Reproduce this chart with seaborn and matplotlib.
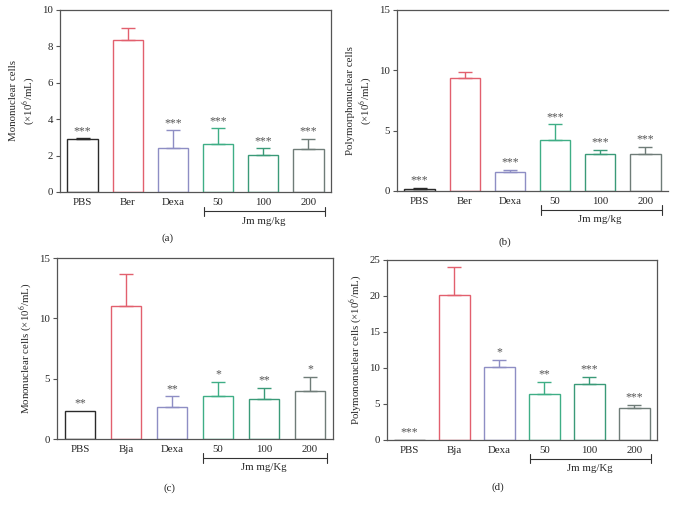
import matplotlib
matplotlib.use("Agg")
import matplotlib.pyplot as plt
import matplotlib.transforms as mtransforms
import seaborn as sns
import numpy as np

# ---- data ----
groups_ab = ["PBS", "Ber", "Dexa", "50", "100", "200"]
groups_cd = ["PBS", "Bja", "Dexa", "50", "100", "200"]

mono_a = [2.90, 8.35, 2.44, 2.64, 2.05, 2.34]
mono_a_err = [0.05, 0.64, 0.95, 0.85, 0.35, 0.56]
mono_a_sig = ["***", "", "***", "***", "***", "***"]

poly_b = [0.19, 9.33, 1.58, 4.24, 3.10, 3.10]
poly_b_err = [0.09, 0.50, 0.19, 1.27, 0.28, 0.58]
poly_b_sig = ["***", "", "***", "***", "***", "***"]

mono_c = [2.32, 11.02, 2.63, 3.57, 3.29, 4.01]
mono_c_err = [0.0, 2.68, 0.91, 1.16, 0.94, 1.11]
mono_c_sig = ["**", "", "**", "*", "**", "*"]

poly_d = [0.05, 20.13, 10.16, 6.35, 7.75, 4.45]
poly_d_err = [0.0, 3.90, 0.92, 1.72, 1.06, 0.47]
poly_d_sig = ["***", "", "*", "**", "***", "***"]

colors = ["#2a2a2a", "#e2606e", "#8e8ec4", "#3fae86", "#3a9a78", "#6f7c78"]

sns.set_style("ticks")
plt.rcParams["font.family"] = ["Liberation Serif", "DejaVu Serif"]
plt.rcParams["mathtext.fontset"] = "stix"

FS = 7.8

fig = plt.figure(figsize=(6.75, 5.09), dpi=100)

panels = [
    # rect, groups, values, err, sig, ylim, yticks, ylabel, bracket label, right spine, tag, tag pos
    ([0.0889, 0.6228, 0.4015, 0.3576], groups_ab, mono_a, mono_a_err, mono_a_sig,
     10, np.arange(0, 11, 2), "Mononuclear cells\n(×10$^6$/mL)", "Jm mg/kg", True,
     "(a)", (168 / 675, 1 - 238 / 509)),
    ([0.5881, 0.6248, 0.4015, 0.3556], groups_ab, poly_b, poly_b_err, poly_b_sig,
     15, [0, 5, 10, 15], "Polymorphonuclear cells\n(×10$^6$/mL)", "Jm mg/kg", False,
     "(b)", (505 / 675, 1 - 242 / 509)),
    ([0.0844, 0.1375, 0.4089, 0.3556], groups_cd, mono_c, mono_c_err, mono_c_sig,
     15, [0, 5, 10, 15], "Mononuclear cells (×10$^6$/mL)", "Jm mg/Kg", True,
     "(c)", (169 / 675, 1 - 488 / 509)),
    ([0.5733, 0.1356, 0.4000, 0.3536], groups_cd, poly_d, poly_d_err, poly_d_sig,
     25, np.arange(0, 26, 5), "Polymononuclear cells (×10$^6$/mL)", "Jm mg/Kg", True,
     "(d)", (498 / 675, 1 - 487 / 509)),
]

for (rect, groups, vals, errs, sigs, ymax, yticks, ylabel, blabel,
     right, tag, tagpos) in panels:
    ax = fig.add_axes(rect)
    sns.barplot(x=groups, y=vals, hue=groups, palette=colors, fill=False,
                width=0.67, linewidth=1.0, errorbar=None, legend=False, ax=ax)
    xs = np.arange(len(groups))
    for i in xs:
        if errs[i] > 0:
            ax.errorbar(i, vals[i], yerr=[[0], [errs[i]]], fmt="none",
                        ecolor=colors[i], elinewidth=1.0, capsize=5.2, capthick=1.0)
        if sigs[i]:
            ax.annotate(sigs[i], (i, vals[i] + errs[i]), xytext=(0, 1.0),
                        textcoords="offset points", ha="center", va="bottom",
                        fontsize=8.5, color="#555555")
    ax.set_xlim(-0.5, 5.5)
    ax.set_ylim(0, ymax)
    ax.set_yticks(yticks)
    ax.set_ylabel(ylabel, fontsize=FS, labelpad=4)
    ax.tick_params(axis="y", labelsize=FS, length=3, width=0.8, color="#555555", pad=2)
    ax.tick_params(axis="x", labelsize=FS, length=0, pad=4)
    for side in ["left", "bottom", "top", "right"]:
        ax.spines[side].set_visible(True)
        ax.spines[side].set_color("#555555")
        ax.spines[side].set_linewidth(0.9)
    if not right:
        ax.spines["right"].set_visible(False)

    # bracket under the dose groups
    trans = mtransforms.blended_transform_factory(ax.transData, ax.transAxes)
    x0, x1, yb = 2.68, 5.36, -0.105
    ax.plot([x0, x1], [yb, yb], color="#333333", lw=0.8, transform=trans, clip_on=False)
    for xe in (x0, x1):
        ax.plot([xe, xe], [yb - 0.025, yb + 0.025], color="#333333", lw=0.8,
                transform=trans, clip_on=False)
    ax.text(4.0, yb - 0.03, blabel, ha="center", va="top", fontsize=FS,
            transform=trans)

    fig.text(tagpos[0], tagpos[1], tag, ha="center", va="center", fontsize=FS)

fig.savefig("out.png", dpi=100)
